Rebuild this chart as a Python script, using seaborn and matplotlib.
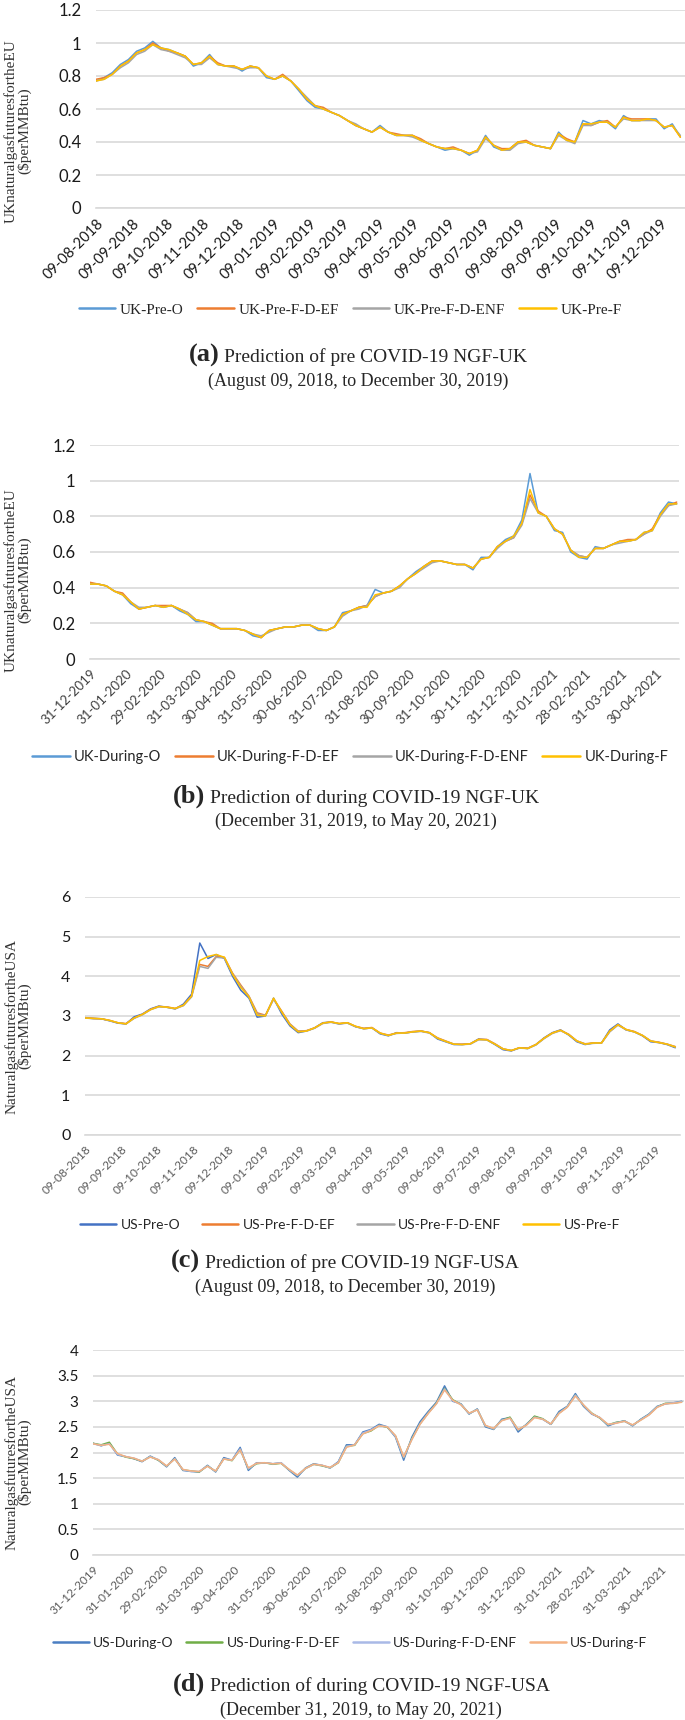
import numpy as np
import pandas as pd
import matplotlib
matplotlib.use("Agg")
import matplotlib.pyplot as plt
from matplotlib.lines import Line2D
import seaborn as sns

W, H = 685, 1720
SERIF = "Liberation Serif"
SANS = "Lato"

# ---------------- data (weekly readings) ----------------
pre_start = "2018-08-09"
during_start = "2019-12-31"

pre_ticks = ["09-08-2018", "09-09-2018", "09-10-2018", "09-11-2018", "09-12-2018",
             "09-01-2019", "09-02-2019", "09-03-2019", "09-04-2019", "09-05-2019",
             "09-06-2019", "09-07-2019", "09-08-2019", "09-09-2019", "09-10-2019",
             "09-11-2019", "09-12-2019"]
during_ticks = ["31-12-2019", "31-01-2020", "29-02-2020", "31-03-2020", "30-04-2020",
                "31-05-2020", "30-06-2020", "31-07-2020", "31-08-2020", "30-09-2020",
                "31-10-2020", "30-11-2020", "31-12-2020", "31-01-2021", "28-02-2021",
                "31-03-2021", "30-04-2021"]

# (a) UK pre COVID
uk_pre_o = [0.77, 0.79, 0.82, 0.87, 0.90, 0.95, 0.97, 1.01, 0.97, 0.96,
            0.94, 0.92, 0.86, 0.88, 0.93, 0.87, 0.86, 0.86, 0.83, 0.86,
            0.85, 0.79, 0.78, 0.80, 0.77, 0.71, 0.65, 0.61, 0.60, 0.58,
            0.56, 0.53, 0.50, 0.48, 0.46, 0.50, 0.46, 0.44, 0.44, 0.44,
            0.41, 0.39, 0.37, 0.35, 0.36, 0.35, 0.32, 0.35, 0.44, 0.37,
            0.35, 0.36, 0.40, 0.40, 0.38, 0.37, 0.36, 0.46, 0.41, 0.40,
            0.53, 0.51, 0.53, 0.52, 0.48, 0.56, 0.53, 0.53, 0.54, 0.54,
            0.48, 0.51, 0.43]
uk_pre_ef = [0.78, 0.79, 0.81, 0.86, 0.89, 0.94, 0.96, 1.00, 0.97, 0.95,
             0.94, 0.92, 0.87, 0.88, 0.92, 0.88, 0.86, 0.86, 0.84, 0.86,
             0.85, 0.80, 0.78, 0.81, 0.77, 0.72, 0.66, 0.62, 0.61, 0.58,
             0.56, 0.53, 0.50, 0.48, 0.46, 0.49, 0.46, 0.45, 0.44, 0.44,
             0.42, 0.39, 0.37, 0.36, 0.37, 0.35, 0.33, 0.35, 0.43, 0.38,
             0.36, 0.36, 0.40, 0.41, 0.38, 0.37, 0.36, 0.45, 0.42, 0.40,
             0.51, 0.50, 0.52, 0.53, 0.49, 0.55, 0.54, 0.54, 0.54, 0.53,
             0.49, 0.50, 0.43]
uk_pre_enf = [0.77, 0.78, 0.81, 0.85, 0.88, 0.93, 0.95, 0.99, 0.96, 0.95,
              0.93, 0.91, 0.87, 0.87, 0.91, 0.87, 0.86, 0.85, 0.84, 0.85,
              0.85, 0.80, 0.78, 0.80, 0.77, 0.72, 0.67, 0.62, 0.60, 0.58,
              0.56, 0.53, 0.51, 0.48, 0.46, 0.49, 0.46, 0.44, 0.44, 0.43,
              0.41, 0.39, 0.37, 0.36, 0.36, 0.35, 0.33, 0.34, 0.42, 0.38,
              0.35, 0.35, 0.39, 0.40, 0.38, 0.37, 0.36, 0.44, 0.41, 0.39,
              0.50, 0.50, 0.52, 0.52, 0.49, 0.54, 0.53, 0.53, 0.53, 0.53,
              0.49, 0.50, 0.44]
uk_pre_f = [0.77, 0.78, 0.81, 0.86, 0.89, 0.94, 0.96, 0.99, 0.97, 0.96,
            0.94, 0.92, 0.87, 0.88, 0.92, 0.87, 0.86, 0.86, 0.84, 0.86,
            0.85, 0.80, 0.78, 0.80, 0.77, 0.72, 0.66, 0.62, 0.60, 0.58,
            0.56, 0.53, 0.50, 0.48, 0.46, 0.49, 0.46, 0.44, 0.44, 0.44,
            0.41, 0.39, 0.37, 0.36, 0.36, 0.35, 0.33, 0.35, 0.43, 0.38,
            0.35, 0.36, 0.40, 0.40, 0.38, 0.37, 0.36, 0.45, 0.41, 0.40,
            0.51, 0.51, 0.52, 0.52, 0.49, 0.55, 0.53, 0.53, 0.54, 0.53,
            0.49, 0.50, 0.43]

# (b) UK during COVID
uk_dur_o = [0.42, 0.42, 0.41, 0.38, 0.36, 0.31, 0.28, 0.29, 0.30, 0.29,
            0.30, 0.27, 0.25, 0.21, 0.21, 0.19, 0.17, 0.17, 0.17, 0.16,
            0.13, 0.12, 0.16, 0.17, 0.18, 0.18, 0.19, 0.19, 0.16, 0.16,
            0.18, 0.26, 0.27, 0.29, 0.30, 0.39, 0.37, 0.38, 0.41, 0.45,
            0.49, 0.52, 0.55, 0.55, 0.54, 0.53, 0.53, 0.50, 0.57, 0.57,
            0.63, 0.67, 0.69, 0.78, 1.04, 0.82, 0.80, 0.72, 0.71, 0.60,
            0.57, 0.56, 0.63, 0.62, 0.64, 0.66, 0.66, 0.67, 0.71, 0.72,
            0.82, 0.88, 0.87]
uk_dur_ef = [0.43, 0.42, 0.41, 0.38, 0.37, 0.32, 0.28, 0.29, 0.30, 0.30,
             0.30, 0.28, 0.26, 0.22, 0.21, 0.20, 0.17, 0.17, 0.17, 0.16,
             0.14, 0.12, 0.16, 0.17, 0.18, 0.18, 0.19, 0.19, 0.17, 0.16,
             0.18, 0.25, 0.27, 0.29, 0.30, 0.35, 0.37, 0.38, 0.41, 0.45,
             0.48, 0.52, 0.55, 0.55, 0.54, 0.53, 0.53, 0.51, 0.56, 0.57,
             0.63, 0.66, 0.68, 0.76, 0.92, 0.83, 0.80, 0.73, 0.70, 0.61,
             0.58, 0.57, 0.62, 0.62, 0.64, 0.66, 0.67, 0.67, 0.70, 0.73,
             0.81, 0.86, 0.88]
uk_dur_enf = [0.42, 0.42, 0.41, 0.38, 0.36, 0.32, 0.29, 0.29, 0.30, 0.29,
              0.30, 0.28, 0.26, 0.22, 0.21, 0.19, 0.17, 0.17, 0.17, 0.16,
              0.14, 0.13, 0.15, 0.17, 0.18, 0.18, 0.19, 0.19, 0.17, 0.16,
              0.18, 0.24, 0.27, 0.28, 0.30, 0.35, 0.37, 0.38, 0.40, 0.45,
              0.48, 0.51, 0.54, 0.55, 0.54, 0.53, 0.53, 0.51, 0.56, 0.57,
              0.62, 0.66, 0.68, 0.75, 0.90, 0.82, 0.80, 0.73, 0.70, 0.61,
              0.58, 0.57, 0.62, 0.62, 0.64, 0.65, 0.66, 0.67, 0.70, 0.72,
              0.80, 0.86, 0.87]
uk_dur_f = [0.42, 0.42, 0.41, 0.38, 0.36, 0.32, 0.28, 0.29, 0.30, 0.29,
            0.30, 0.28, 0.25, 0.22, 0.21, 0.19, 0.17, 0.17, 0.17, 0.16,
            0.14, 0.12, 0.16, 0.17, 0.18, 0.18, 0.19, 0.19, 0.17, 0.16,
            0.18, 0.25, 0.27, 0.29, 0.29, 0.36, 0.37, 0.38, 0.41, 0.45,
            0.48, 0.52, 0.55, 0.55, 0.54, 0.53, 0.53, 0.51, 0.56, 0.57,
            0.63, 0.66, 0.69, 0.76, 0.95, 0.82, 0.80, 0.73, 0.70, 0.61,
            0.57, 0.57, 0.62, 0.62, 0.64, 0.66, 0.66, 0.67, 0.71, 0.72,
            0.81, 0.87, 0.87]

# (c) US pre COVID
us_pre_o = [2.95, 2.94, 2.93, 2.88, 2.82, 2.80, 2.98, 3.05, 3.18, 3.25,
            3.22, 3.18, 3.30, 3.55, 4.84, 4.45, 4.55, 4.45, 4.00, 3.65,
            3.45, 2.97, 3.00, 3.45, 3.05, 2.75, 2.58, 2.62, 2.70, 2.83,
            2.85, 2.80, 2.83, 2.73, 2.68, 2.70, 2.55, 2.50, 2.58, 2.57,
            2.60, 2.62, 2.58, 2.42, 2.35, 2.28, 2.28, 2.30, 2.42, 2.40,
            2.28, 2.15, 2.12, 2.20, 2.18, 2.28, 2.45, 2.58, 2.65, 2.52,
            2.35, 2.28, 2.32, 2.32, 2.65, 2.80, 2.65, 2.60, 2.50, 2.35,
            2.33, 2.28, 2.20]
us_pre_ef = [2.96, 2.94, 2.93, 2.89, 2.83, 2.81, 2.95, 3.04, 3.17, 3.24,
             3.23, 3.19, 3.27, 3.50, 4.30, 4.25, 4.50, 4.48, 4.08, 3.78,
             3.50, 3.08, 3.02, 3.43, 3.12, 2.80, 2.62, 2.63, 2.70, 2.82,
             2.85, 2.81, 2.83, 2.74, 2.69, 2.71, 2.57, 2.52, 2.57, 2.58,
             2.61, 2.62, 2.58, 2.45, 2.37, 2.29, 2.29, 2.30, 2.41, 2.41,
             2.30, 2.17, 2.13, 2.20, 2.19, 2.28, 2.44, 2.57, 2.64, 2.54,
             2.37, 2.30, 2.32, 2.32, 2.61, 2.78, 2.66, 2.61, 2.51, 2.37,
             2.34, 2.29, 2.23]
us_pre_enf = [2.95, 2.93, 2.93, 2.88, 2.83, 2.80, 2.94, 3.03, 3.16, 3.23,
              3.22, 3.18, 3.26, 3.48, 4.25, 4.20, 4.48, 4.46, 4.06, 3.75,
              3.49, 3.05, 3.01, 3.42, 3.10, 2.79, 2.61, 2.62, 2.69, 2.81,
              2.84, 2.80, 2.82, 2.73, 2.68, 2.70, 2.56, 2.51, 2.56, 2.57,
              2.60, 2.61, 2.57, 2.44, 2.36, 2.29, 2.28, 2.29, 2.40, 2.40,
              2.29, 2.17, 2.13, 2.19, 2.18, 2.27, 2.43, 2.56, 2.63, 2.53,
              2.37, 2.29, 2.31, 2.32, 2.60, 2.77, 2.65, 2.60, 2.51, 2.37,
              2.33, 2.29, 2.22]
us_pre_f = [2.95, 2.94, 2.93, 2.89, 2.83, 2.80, 2.95, 3.04, 3.16, 3.24,
            3.22, 3.19, 3.27, 3.50, 4.40, 4.50, 4.55, 4.48, 4.05, 3.72,
            3.48, 3.02, 3.00, 3.45, 3.10, 2.78, 2.60, 2.62, 2.70, 2.82,
            2.85, 2.81, 2.83, 2.74, 2.68, 2.70, 2.57, 2.51, 2.57, 2.57,
            2.60, 2.62, 2.58, 2.44, 2.36, 2.29, 2.28, 2.30, 2.41, 2.40,
            2.29, 2.17, 2.13, 2.20, 2.18, 2.28, 2.44, 2.57, 2.64, 2.53,
            2.37, 2.29, 2.32, 2.32, 2.62, 2.78, 2.66, 2.60, 2.51, 2.37,
            2.33, 2.29, 2.22]

# (d) US during COVID
us_dur_o = [2.18, 2.13, 2.18, 1.95, 1.92, 1.88, 1.82, 1.93, 1.85, 1.72,
            1.90, 1.65, 1.63, 1.62, 1.75, 1.62, 1.90, 1.85, 2.10, 1.65,
            1.80, 1.80, 1.78, 1.80, 1.65, 1.52, 1.70, 1.78, 1.75, 1.70,
            1.82, 2.15, 2.15, 2.40, 2.45, 2.55, 2.50, 2.30, 1.85, 2.30,
            2.60, 2.80, 2.98, 3.30, 3.00, 2.95, 2.75, 2.85, 2.50, 2.45,
            2.65, 2.68, 2.40, 2.55, 2.70, 2.65, 2.55, 2.80, 2.90, 3.15,
            2.90, 2.75, 2.68, 2.52, 2.58, 2.62, 2.52, 2.65, 2.75, 2.90,
            2.95, 2.97, 3.00]
us_dur_ef = [2.18, 2.15, 2.20, 1.97, 1.91, 1.88, 1.83, 1.92, 1.85, 1.73,
             1.88, 1.66, 1.64, 1.62, 1.74, 1.63, 1.88, 1.84, 2.06, 1.68,
             1.78, 1.80, 1.77, 1.79, 1.66, 1.55, 1.69, 1.77, 1.74, 1.70,
             1.80, 2.12, 2.14, 2.37, 2.42, 2.53, 2.49, 2.32, 1.90, 2.27,
             2.56, 2.77, 2.96, 3.25, 3.03, 2.94, 2.76, 2.84, 2.52, 2.46,
             2.63, 2.69, 2.44, 2.54, 2.71, 2.66, 2.55, 2.77, 2.89, 3.12,
             2.92, 2.77, 2.67, 2.54, 2.59, 2.61, 2.53, 2.64, 2.74, 2.89,
             2.96, 2.96, 2.99]
us_dur_enf = [2.17, 2.14, 2.17, 1.96, 1.92, 1.89, 1.83, 1.92, 1.86, 1.73,
              1.88, 1.66, 1.63, 1.63, 1.74, 1.63, 1.88, 1.85, 2.07, 1.68,
              1.79, 1.80, 1.78, 1.80, 1.66, 1.55, 1.69, 1.77, 1.75, 1.70,
              1.81, 2.12, 2.15, 2.38, 2.44, 2.53, 2.50, 2.31, 1.90, 2.26,
              2.56, 2.77, 2.95, 3.24, 3.01, 2.94, 2.76, 2.84, 2.52, 2.46,
              2.63, 2.67, 2.44, 2.54, 2.69, 2.65, 2.55, 2.77, 2.89, 3.12,
              2.92, 2.76, 2.68, 2.54, 2.58, 2.61, 2.53, 2.64, 2.74, 2.89,
              2.95, 2.97, 2.99]
us_dur_f = [2.17, 2.14, 2.16, 1.98, 1.92, 1.89, 1.83, 1.91, 1.86, 1.74,
            1.87, 1.67, 1.64, 1.63, 1.73, 1.64, 1.87, 1.85, 2.05, 1.70,
            1.79, 1.80, 1.78, 1.79, 1.67, 1.56, 1.69, 1.77, 1.75, 1.71,
            1.80, 2.10, 2.15, 2.36, 2.43, 2.52, 2.50, 2.33, 1.92, 2.25,
            2.55, 2.76, 2.95, 3.22, 3.02, 2.93, 2.77, 2.83, 2.53, 2.47,
            2.62, 2.67, 2.45, 2.53, 2.68, 2.65, 2.56, 2.76, 2.88, 3.10,
            2.93, 2.76, 2.68, 2.55, 2.57, 2.61, 2.54, 2.63, 2.73, 2.88,
            2.95, 2.96, 2.98]

EXCEL = ["#5B9BD5", "#ED7D31", "#A5A5A5", "#FFC000"]

panels = [
    dict(start=pre_start, end="2019-12-30", ticks=pre_ticks,
         series={"UK-Pre-O": uk_pre_o, "UK-Pre-F-D-EF": uk_pre_ef,
                 "UK-Pre-F-D-ENF": uk_pre_enf, "UK-Pre-F": uk_pre_f},
         colors=EXCEL, ymax=1.2, ystep=0.2,
         ylabel="UKnaturalgasfuturesfortheEU\n($perMMBtu)",
         box=(96, 685, 10, 208), xtick_fs=10.5, xtick_col="#1a1a1a", ytick_fs=12,
         ylab_y=131, leg_y=310, leg_font=SERIF, leg_fs=11, leg_cs=0.9, leg_hl=2.4,
         letter="(a)", title="Prediction of pre COVID-19 NGF-UK",
         period="(August 09, 2018, to December 30, 2019)", cap=(358, 362, 386)),
    dict(start=during_start, end="2021-05-20", ticks=during_ticks,
         series={"UK-During-O": uk_dur_o, "UK-During-F-D-EF": uk_dur_ef,
                 "UK-During-F-D-ENF": uk_dur_enf, "UK-During-F": uk_dur_f},
         colors=EXCEL, ymax=1.2, ystep=0.2,
         ylabel="UKnaturalgasfuturesfortheEU\n($perMMBtu)",
         box=(90, 679, 445, 659), xtick_fs=9.5, xtick_col="#404040", ytick_fs=12,
         ylab_y=580, leg_y=757, leg_font=SANS, leg_fs=10.5, leg_cs=0.9, leg_hl=2.6,
         letter="(b)", title="Prediction of during COVID-19 NGF-UK",
         period="(December 31, 2019, to May 20, 2021)", cap=(356, 803, 826)),
    dict(start=pre_start, end="2019-12-30", ticks=pre_ticks,
         series={"US-Pre-O": us_pre_o, "US-Pre-F-D-EF": us_pre_ef,
                 "US-Pre-F-D-ENF": us_pre_enf, "US-Pre-F": us_pre_f},
         colors=["#4472C4", "#ED7D31", "#A5A5A5", "#FFC000"], ymax=6, ystep=1,
         ylabel="NaturalgasfuturesfortheUSA\n($perMMBtu)",
         box=(85, 680, 897, 1135), xtick_fs=8.5, xtick_col="#595959", ytick_fs=11.5,
         ylab_y=1026, leg_y=1225, leg_font=SANS, leg_fs=10, leg_cs=1.6, leg_hl=2.6,
         letter="(c)", title="Prediction of pre COVID-19 NGF-USA",
         period="(August 09, 2018, to December 30, 2019)", cap=(345, 1268, 1292)),
    dict(start=during_start, end="2021-05-20", ticks=during_ticks,
         series={"US-During-O": us_dur_o, "US-During-F-D-EF": us_dur_ef,
                 "US-During-F-D-ENF": us_dur_enf, "US-During-F": us_dur_f},
         colors=["#4A7EC2", "#70AD47", "#A9B9E6", "#F4B183"], ymax=4, ystep=0.5,
         ylabel="NaturalgasfuturesfortheUSA\n($perMMBtu)",
         box=(93, 684, 1350, 1555), xtick_fs=8.5, xtick_col="#595959", ytick_fs=11,
         ylab_y=1462, leg_y=1643, leg_font=SANS, leg_fs=10, leg_cs=0.9, leg_hl=2.6,
         letter="(d)", title="Prediction of during COVID-19 NGF-USA",
         period="(December 31, 2019, to May 20, 2021)", cap=(361, 1691, 1715)),
]

sns.set_style("white")
plt.rcParams["font.family"] = [SANS, "DejaVu Sans"]

fig = plt.figure(figsize=(W / 100, H / 100), dpi=100)
captions = []

for p in panels:
    left, right, top, bottom = p["box"]
    ax = fig.add_axes([left / W, 1 - bottom / H, (right - left) / W, (bottom - top) / H])

    names = list(p["series"].keys())
    n = len(p["series"][names[0]])
    dates = pd.date_range(p["start"], periods=n, freq="7D")
    df = pd.DataFrame({
        "date": np.tile(dates, len(names)),
        "value": np.concatenate([p["series"][k] for k in names]),
        "series": np.repeat(names, n),
    })
    sns.lineplot(data=df, x="date", y="value", hue="series", hue_order=names,
                 palette=p["colors"], linewidth=1.1, estimator=None,
                 legend=False, ax=ax)

    ax.set_xlim(pd.Timestamp(p["start"]), pd.Timestamp(p["end"]))
    ax.set_ylim(0, p["ymax"])
    yt = np.arange(0, p["ymax"] + p["ystep"] / 2, p["ystep"])
    ax.set_yticks(yt)
    ax.set_yticklabels([f"{v:g}" for v in yt], fontsize=p["ytick_fs"],
                       family=[SANS, "DejaVu Sans"], color="#1a1a1a")
    tick_dates = pd.to_datetime(p["ticks"], format="%d-%m-%Y")
    ax.set_xticks(tick_dates)
    ax.set_xticklabels(p["ticks"], rotation=45, ha="right", rotation_mode="anchor",
                       fontsize=p["xtick_fs"], color=p["xtick_col"],
                       family=[SANS, "DejaVu Sans"])
    ax.tick_params(axis="x", length=4, width=0.8, color="#BFBFBF", pad=2)
    ax.tick_params(axis="y", length=0, pad=10.5)
    ax.set_xlabel("")
    ax.set_ylabel("")
    ax.yaxis.grid(True, color="#D9D9D9", linewidth=1.2)
    ax.xaxis.grid(False)
    ax.set_axisbelow(True)
    for s in ["top", "right", "left"]:
        ax.spines[s].set_visible(False)
    ax.spines["bottom"].set_color("#D9D9D9")
    ax.spines["bottom"].set_linewidth(1.2)

    fig.text(18 / W, 1 - p["ylab_y"] / H, p["ylabel"], rotation=90, ha="center",
             va="center", fontsize=11, family=SERIF, color="#333333",
             linespacing=0.95, multialignment="center")

    handles = [Line2D([], [], color=c, lw=1.8) for c in p["colors"]]
    fig.legend(handles, names, loc="center", ncol=4,
               bbox_to_anchor=(350 / W, 1 - p["leg_y"] / H), frameon=False,
               prop={"family": p["leg_font"], "size": p["leg_fs"]},
               handlelength=p["leg_hl"], handletextpad=0.3,
               columnspacing=p["leg_cs"], labelcolor="#262626")

    cx, y1, y2 = p["cap"]
    t1 = fig.text(0, 1 - y1 / H, p["letter"], fontsize=19, fontweight="bold",
                  family=SERIF, va="baseline", ha="left")
    t2 = fig.text(0, 1 - y1 / H, p["title"], fontsize=14, family=SERIF,
                  va="baseline", ha="left")
    fig.text(cx / W, 1 - y2 / H, p["period"], fontsize=13, family=SERIF,
             va="baseline", ha="center")
    captions.append((t1, t2, cx))

# centre the two-font caption lines
fig.canvas.draw()
r = fig.canvas.get_renderer()
for t1, t2, cx in captions:
    w1 = t1.get_window_extent(r).width
    w2 = t2.get_window_extent(r).width
    gap = 5
    x0 = cx - (w1 + gap + w2) / 2
    t1.set_x(x0 / W)
    t2.set_x((x0 + w1 + gap) / W)

fig.savefig("out.png", dpi=100)
